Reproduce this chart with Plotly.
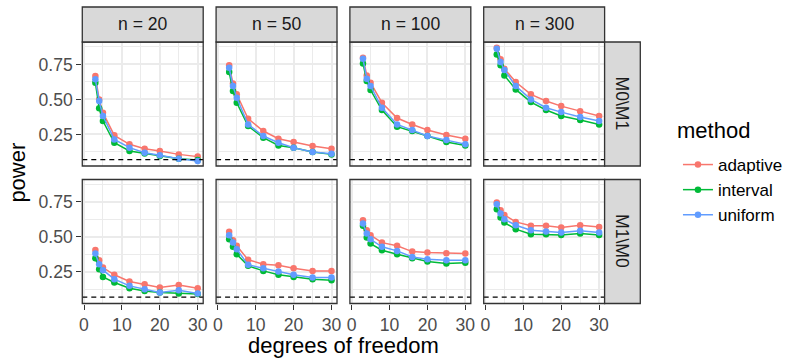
import plotly.graph_objects as go

# ---------------- data ----------------
df = [3, 4, 5, 8, 12, 16, 20, 25, 30]
sample_sizes = ["n = 20", "n = 50", "n = 100", "n = 300"]
hypotheses = ["M0\\M1", "M1\\M0"]
methods = ["adaptive", "interval", "uniform"]
method_colors = ["#F8766D", "#00BA38", "#619CFF"]
nominal_level = 0.07

x_ticks = [0, 10, 20, 30]
y_ticks = [0.25, 0.50, 0.75]
y_tick_labels = ["0.25", "0.50", "0.75"]

# M0\M1 row, one list per sample size (n = 20, 50, 100, 300)
adaptive_m0m1 = [
    [0.667, 0.500, 0.405, 0.243, 0.179, 0.148, 0.131, 0.107, 0.091],
    [0.743, 0.614, 0.536, 0.362, 0.274, 0.219, 0.195, 0.167, 0.148],
    [0.798, 0.671, 0.619, 0.476, 0.367, 0.321, 0.281, 0.245, 0.219],
    [0.869, 0.786, 0.719, 0.624, 0.536, 0.488, 0.452, 0.416, 0.381],
]
interval_m0m1 = [
    [0.619, 0.436, 0.345, 0.190, 0.131, 0.114, 0.095, 0.076, 0.066],
    [0.695, 0.559, 0.476, 0.310, 0.226, 0.171, 0.155, 0.124, 0.107],
    [0.757, 0.631, 0.567, 0.424, 0.305, 0.274, 0.238, 0.195, 0.171],
    [0.821, 0.743, 0.671, 0.571, 0.481, 0.424, 0.381, 0.352, 0.321],
]
uniform_m0m1 = [
    [0.643, 0.488, 0.381, 0.214, 0.155, 0.119, 0.100, 0.076, 0.059],
    [0.726, 0.595, 0.512, 0.321, 0.238, 0.190, 0.155, 0.124, 0.112],
    [0.790, 0.648, 0.595, 0.440, 0.321, 0.281, 0.238, 0.209, 0.179],
    [0.862, 0.767, 0.710, 0.595, 0.500, 0.440, 0.409, 0.374, 0.345],
]
# M1\M0 row
adaptive_m1m0 = [
    [0.407, 0.333, 0.281, 0.229, 0.181, 0.162, 0.138, 0.157, 0.133],
    [0.536, 0.476, 0.436, 0.336, 0.305, 0.298, 0.276, 0.257, 0.257],
    [0.619, 0.548, 0.512, 0.459, 0.436, 0.395, 0.388, 0.383, 0.381],
    [0.745, 0.690, 0.657, 0.607, 0.579, 0.579, 0.567, 0.583, 0.571],
]
interval_m1m0 = [
    [0.348, 0.269, 0.214, 0.174, 0.133, 0.114, 0.102, 0.095, 0.091],
    [0.483, 0.429, 0.376, 0.293, 0.257, 0.229, 0.214, 0.198, 0.190],
    [0.579, 0.495, 0.452, 0.405, 0.376, 0.348, 0.324, 0.310, 0.316],
    [0.698, 0.638, 0.602, 0.555, 0.519, 0.519, 0.514, 0.524, 0.514],
]
uniform_m1m0 = [
    [0.381, 0.305, 0.262, 0.198, 0.150, 0.126, 0.102, 0.119, 0.095],
    [0.512, 0.459, 0.412, 0.300, 0.276, 0.252, 0.229, 0.209, 0.209],
    [0.595, 0.524, 0.483, 0.429, 0.400, 0.357, 0.341, 0.333, 0.333],
    [0.733, 0.667, 0.626, 0.583, 0.548, 0.538, 0.531, 0.543, 0.531],
]

rows_data = [
    [adaptive_m0m1, interval_m0m1, uniform_m0m1],
    [adaptive_m1m0, interval_m1m0, uniform_m1m0],
]

# ---------------- layout geometry (pixels) ----------------
W, H = 789, 358
col_px = [(80, 202), (215, 337), (350, 472), (485, 607)]
row_px = [(42, 166), (179.5, 303.5)]
strip_top = (7, 42)
strip_right = (607, 643)

FONT = "Liberation Sans, Arial, Helvetica, sans-serif"
BORDER = "#333333"
GRID = "#EBEBEB"
STRIP_FILL = "#D9D9D9"
TICK_FONT = dict(family=FONT, size=17.6, color="#4D4D4D")


def fx(px):
    return px / W


def fy(py):
    return 1 - py / H


fig = go.Figure()
layout = {}
shapes = []
annotations = []

for r in range(2):
    for c in range(4):
        i = r * 4 + c + 1
        sfx = "" if i == 1 else str(i)
        xa, ya = "xaxis" + sfx, "yaxis" + sfx
        layout[xa] = dict(
            domain=[fx(col_px[c][0]), fx(col_px[c][1])],
            anchor="y" + sfx,
            range=[-0.45, 31.45],
            tickvals=x_ticks,
            showgrid=True, gridcolor=GRID, gridwidth=1.5,
            minor=dict(tickvals=[5, 15, 25], showgrid=True, gridcolor=GRID, gridwidth=1.0),
            zeroline=False, showline=False,
            ticks="outside" if r == 1 else "",
            ticklen=5, tickwidth=1.3, tickcolor=BORDER,
            showticklabels=(r == 1),
            tickfont=TICK_FONT,
            fixedrange=True,
        )
        layout[ya] = dict(
            domain=[fy(row_px[r][1]), fy(row_px[r][0])],
            anchor="x" + sfx,
            range=[0.024, 0.91],
            tickvals=y_ticks, ticktext=y_tick_labels,
            showgrid=True, gridcolor=GRID, gridwidth=1.5,
            minor=dict(tickvals=[0.125, 0.375, 0.625, 0.875], showgrid=True, gridcolor=GRID, gridwidth=1.0),
            zeroline=False, showline=False,
            ticks="outside" if c == 0 else "",
            ticklen=5, tickwidth=1.3, tickcolor=BORDER,
            showticklabels=(c == 0),
            tickfont=TICK_FONT,
            fixedrange=True,
        )
        for m, (name, color) in enumerate(zip(methods, method_colors)):
            fig.add_trace(go.Scatter(
                x=df, y=rows_data[r][m][c],
                mode="lines+markers",
                line=dict(color=color, width=1.5),
                marker=dict(color=color, size=6.5),
                name=name, legendgroup=name,
                showlegend=(i == 1),
                xaxis="x" + sfx, yaxis="y" + sfx,
                hoverinfo="skip",
            ))
        # nominal level dashed line
        shapes.append(dict(
            type="line", xref="x" + sfx + " domain", yref="y" + sfx,
            x0=0, x1=1, y0=nominal_level, y1=nominal_level,
            line=dict(color="black", width=1.3, dash="5px,4px"),
        ))
        # panel border
        shapes.append(dict(
            type="rect", xref="x" + sfx + " domain", yref="y" + sfx + " domain",
            x0=0, x1=1, y0=0, y1=1,
            line=dict(color=BORDER, width=1.3), fillcolor="rgba(0,0,0,0)",
        ))

# top strips
for c, label in enumerate(sample_sizes):
    shapes.append(dict(
        type="rect", xref="paper", yref="paper",
        x0=fx(col_px[c][0]), x1=fx(col_px[c][1]),
        y0=fy(strip_top[1]), y1=fy(strip_top[0]),
        line=dict(color=BORDER, width=1.3), fillcolor=STRIP_FILL,
    ))
    annotations.append(dict(
        text=label, xref="paper", yref="paper",
        x=fx((col_px[c][0] + col_px[c][1]) / 2), y=fy(sum(strip_top) / 2),
        xanchor="center", yanchor="middle", showarrow=False,
        font=dict(family=FONT, size=17.6, color="#1A1A1A"),
    ))

# right strips
for r, label in enumerate(hypotheses):
    shapes.append(dict(
        type="rect", xref="paper", yref="paper",
        x0=fx(strip_right[0]), x1=fx(strip_right[1]),
        y0=fy(row_px[r][1]), y1=fy(row_px[r][0]),
        line=dict(color=BORDER, width=1.3), fillcolor=STRIP_FILL,
    ))
    annotations.append(dict(
        text=label, xref="paper", yref="paper",
        x=fx(sum(strip_right) / 2), y=fy(sum(row_px[r]) / 2),
        xanchor="center", yanchor="middle", showarrow=False, textangle=90,
        font=dict(family=FONT, size=17.6, color="#1A1A1A"),
    ))

# axis titles
annotations.append(dict(
    text="degrees of freedom", xref="paper", yref="paper",
    x=fx((col_px[0][0] + col_px[3][1]) / 2), y=fy(345),
    xanchor="center", yanchor="middle", showarrow=False,
    font=dict(family=FONT, size=22, color="black"),
))
annotations.append(dict(
    text="power", xref="paper", yref="paper",
    x=fx(15), y=fy((row_px[0][0] + row_px[1][1]) / 2),
    xanchor="center", yanchor="middle", showarrow=False, textangle=-90,
    font=dict(family=FONT, size=22, color="black"),
))
# legend title
annotations.append(dict(
    text="method", xref="paper", yref="paper",
    x=fx(678), y=fy(130),
    xanchor="left", yanchor="middle", showarrow=False,
    font=dict(family=FONT, size=22, color="black"),
))

fig.update_layout(
    width=W, height=H,
    margin=dict(l=0, r=0, t=0, b=0),
    paper_bgcolor="white", plot_bgcolor="white",
    shapes=shapes, annotations=annotations,
    legend=dict(
        x=fx(681), y=fy(147), xanchor="left", yanchor="top",
        font=dict(family=FONT, size=17, color="black"),
        itemwidth=30, bgcolor="rgba(0,0,0,0)",
        tracegroupgap=0,
    ),
    showlegend=True,
    **layout,
)

fig.write_html("out.html")
